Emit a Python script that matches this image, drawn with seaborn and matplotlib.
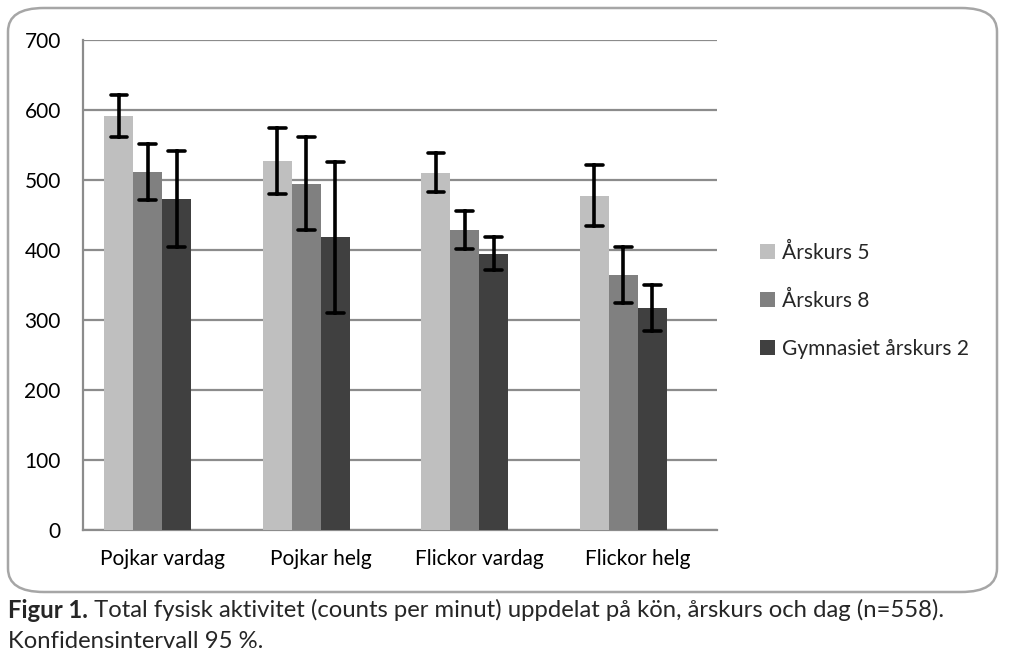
import numpy as np
import pandas as pd
import matplotlib
matplotlib.use("Agg")
import matplotlib.pyplot as plt
from matplotlib.patches import FancyBboxPatch, Patch
import seaborn as sns

categories = ["Pojkar vardag", "Pojkar helg", "Flickor vardag", "Flickor helg"]
groups = ["Årskurs 5", "Årskurs 8", "Gymnasiet årskurs 2"]
means = {
    "Årskurs 5": [591, 527, 510, 477],
    "Årskurs 8": [511, 495, 429, 364],
    "Gymnasiet årskurs 2": [473, 418, 395, 317],
}
ci_low = {
    "Årskurs 5": [562, 480, 483, 434],
    "Årskurs 8": [471, 429, 402, 324],
    "Gymnasiet årskurs 2": [405, 310, 371, 284],
}
ci_high = {
    "Årskurs 5": [621, 575, 538, 522],
    "Årskurs 8": [552, 561, 456, 405],
    "Gymnasiet årskurs 2": [541, 526, 419, 350],
}
colors = {"Årskurs 5": "#bfbfbf", "Årskurs 8": "#808080", "Gymnasiet årskurs 2": "#404040", " ": "#ffffff"}
yticks = [0, 100, 200, 300, 400, 500, 600, 700]
caption_bold = "Figur 1."
caption_rest = " Total fysisk aktivitet (counts per minut) uppdelat på kön, årskurs och dag (n=558)."
caption_line2 = "Konfidensintervall 95 %."

# long table: low / mean / high per bar -> median = mean, 100% interval = CI
rows = []
for g in groups:
    for i, c in enumerate(categories):
        for v in (ci_low[g][i], means[g][i], ci_high[g][i]):
            rows.append({"kategori": c, "grupp": g, "varde": v})
df = pd.DataFrame(rows)

sns.set_theme(style="white")
plt.rcParams["font.family"] = ["Lato", "DejaVu Sans"]

fig = plt.figure(figsize=(10.24, 6.71), dpi=100)
fig.patch.set_facecolor("white")

border = FancyBboxPatch((8 / 1024, 1 - 592 / 671), (997 - 8) / 1024, (592 - 8) / 671,
                        boxstyle="round,pad=0,rounding_size=0.035",
                        transform=fig.transFigure, facecolor="none",
                        edgecolor="#a6a6a6", linewidth=1.8, zorder=5)
fig.patches.append(border)

ax = fig.add_axes([83 / 1024, 1 - 530 / 671, (717 - 83) / 1024, (530 - 40) / 671])
ax.set_facecolor("none")

sns.barplot(data=df, x="kategori", y="varde", hue="grupp",
            order=categories, hue_order=groups + [" "], palette=colors,
            estimator="median", errorbar=("pi", 100), capsize=0.42,
            err_kws={"color": "black", "linewidth": 2.6, "zorder": 6},
            width=0.73, saturation=1, linewidth=0, legend=False, ax=ax, zorder=3)

ax.set_ylim(0, 700)
ax.set_yticks(yticks)
ax.set_yticklabels([str(t) for t in yticks])
ax.yaxis.grid(True, color="#8c8c8c", linewidth=1.6, zorder=0)
ax.set_axisbelow(True)
for s in ["top", "right"]:
    ax.spines[s].set_visible(False)
for s in ["left", "bottom"]:
    ax.spines[s].set_color("#8c8c8c")
    ax.spines[s].set_linewidth(1.6)
ax.tick_params(axis="both", length=0, labelsize=15, colors="black")
ax.tick_params(axis="y", pad=16)
ax.tick_params(axis="x", pad=14)
ax.set_xlabel("")
ax.set_ylabel("")

handles = [Patch(facecolor=colors[g], edgecolor="none") for g in groups]
ax.legend(handles, groups, loc="center left", bbox_to_anchor=(1.055, 0.468),
          frameon=False, fontsize=15, handlelength=0.7, handleheight=0.7,
          handletextpad=0.35, labelspacing=1.33, borderaxespad=0)

fig.canvas.draw()
r = fig.canvas.get_renderer()
t1 = fig.text(8 / 1024, 1 - 610 / 671, caption_bold, fontsize=17.2, fontweight="bold",
              va="center", ha="left")
bb = t1.get_window_extent(renderer=r)
fig.text(bb.x1 / fig.bbox.width, 1 - 610 / 671, caption_rest, fontsize=17.2,
         va="center", ha="left")
fig.text(8 / 1024, 1 - 641 / 671, caption_line2, fontsize=17.2, va="center", ha="left")

fig.savefig("out.png", dpi=100, facecolor="white")
